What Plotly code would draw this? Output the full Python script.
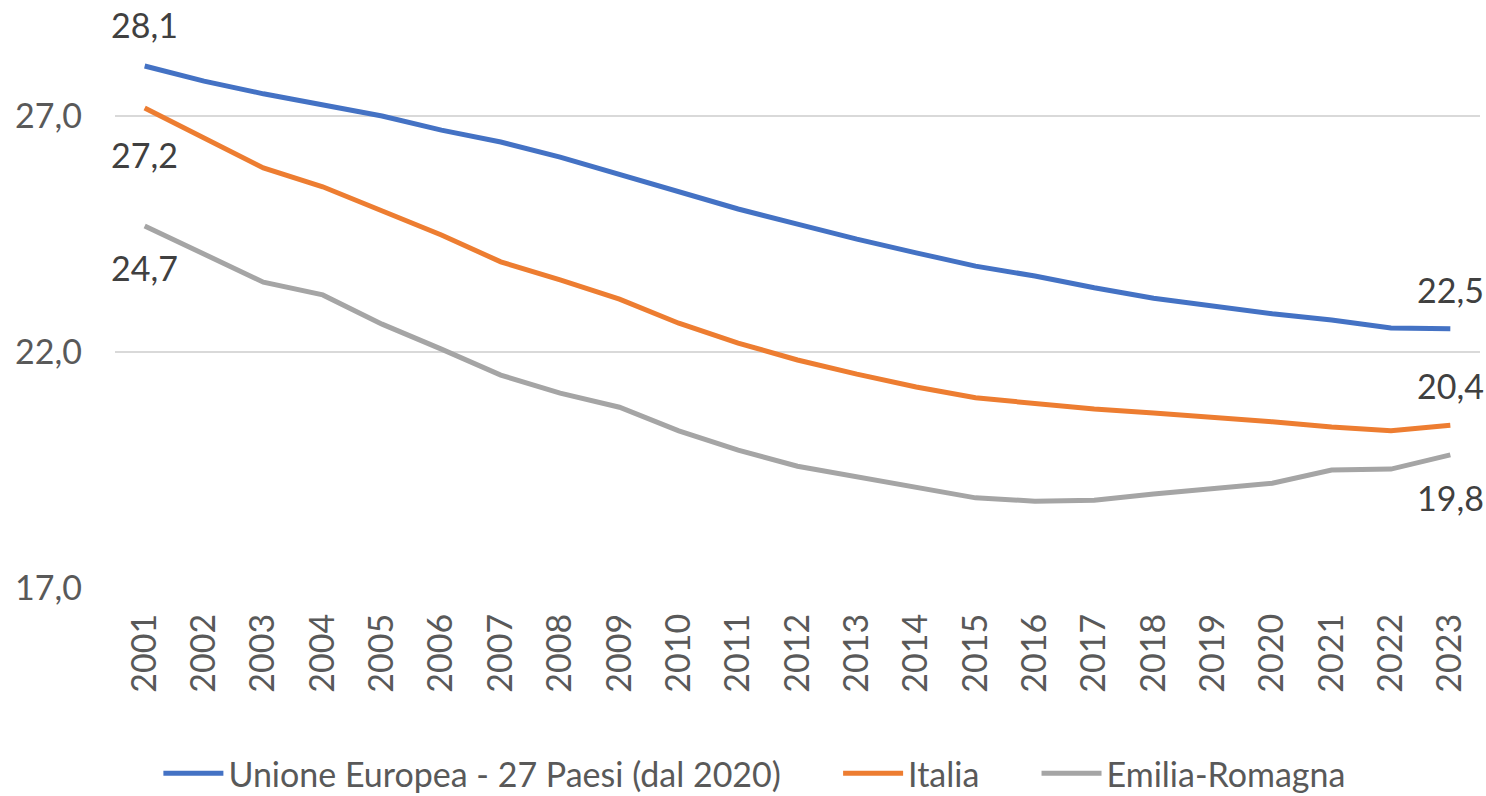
import plotly.graph_objects as go

years = [str(y) for y in range(2001, 2024)]
ue27 = [28.06, 27.74, 27.47, 27.23, 27.00, 26.70, 26.45, 26.13, 25.77, 25.39, 25.03, 24.71,
        24.39, 24.10, 23.82, 23.61, 23.36, 23.14, 22.97, 22.81, 22.68, 22.51, 22.49]
italia = [27.17, 26.53, 25.90, 25.50, 24.99, 24.48, 23.91, 23.53, 23.12, 22.61, 22.19, 21.83,
          21.53, 21.26, 21.03, 20.90, 20.79, 20.71, 20.62, 20.52, 20.41, 20.33, 20.45]
emilia = [24.67, 24.08, 23.48, 23.21, 22.59, 22.06, 21.51, 21.13, 20.83, 20.33, 19.92, 19.58,
          19.35, 19.12, 18.91, 18.84, 18.86, 18.99, 19.10, 19.22, 19.50, 19.52, 19.82]
names = ["Unione Europea - 27 Paesi (dal 2020)", "Italia", "Emilia-Romagna"]
colors = ["#4472C4", "#ED7D31", "#A5A5A5"]
tickvals = [17, 22, 27]
ticktext = ["17,0", "22,0", "27,0"]

FONT = "Lato"
FS = 34
fig = go.Figure()
series = [ue27, italia, emilia]
pad = "\u00a0" * 6
for i, (vals, name, col) in enumerate(zip(series, names, colors)):
    label = name + (pad if i < len(series) - 1 else "")
    fig.add_trace(go.Scatter(x=years, y=vals, mode="lines", name=label,
                             line=dict(color=col, width=5)))

def fmt(v):
    return f"{v:.1f}".replace(".", ",")

# label offsets (px): first point, last point
shifts = [(41, 39), (-47, 40), (-42, -43)]
last = len(years) - 1
for vals, (s0, s1) in zip(series, shifts):
    for idx, s in ((0, s0), (last, s1)):
        fig.add_annotation(x=idx, y=vals[idx], xref="x", yref="y", text=fmt(vals[idx]),
                           showarrow=False, yshift=s,
                           font=dict(family=FONT, size=FS, color="#404040"))

fig.update_layout(
    width=1486, height=796,
    margin=dict(l=115, r=6, t=0, b=208),
    paper_bgcolor="white", plot_bgcolor="white",
    font=dict(family=FONT, color="#595959"),
    showlegend=True,
    legend=dict(orientation="h", xref="container", x=0.508, xanchor="center",
                yref="container", y=0.028, yanchor="middle",
                font=dict(family=FONT, size=FS, color="#595959"),
                itemwidth=60),
    xaxis=dict(type="category", range=[-0.5, 22.5], tickangle=-90, showgrid=False,
               tickfont=dict(family=FONT, size=FS, color="#595959"),
               ticks="", showline=False, ticklabelstandoff=18),
    yaxis=dict(range=[17, 17 + 588 / 47.2], tickvals=tickvals, ticktext=ticktext,
               showgrid=True, gridcolor="#D9D9D9", gridwidth=1.5, zeroline=False,
               tickfont=dict(family=FONT, size=FS, color="#595959"),
               ticks="", showline=False, ticklabelstandoff=32),
)
fig.write_html("out.html")
